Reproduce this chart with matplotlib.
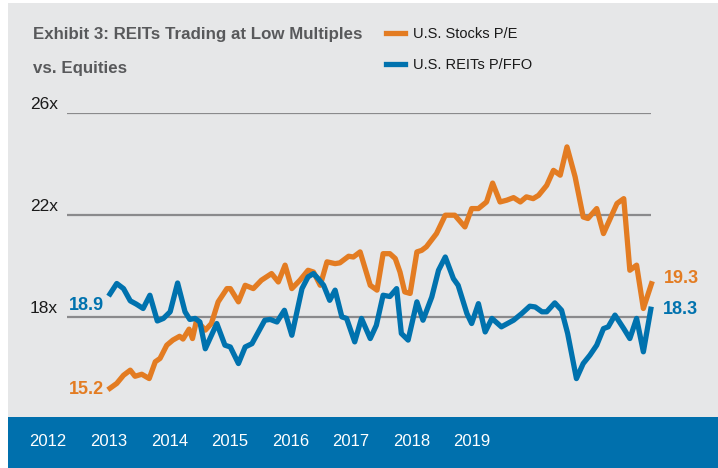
import matplotlib
matplotlib.use('Agg')
import matplotlib.pyplot as plt
from matplotlib.patches import Rectangle
from matplotlib.transforms import blended_transform_factory

plt.rcParams['font.family'] = ['Liberation Sans', 'DejaVu Sans']

# months since Jul 2012
stocks_t = [0.0, 1.0, 2.0, 3.0, 3.7, 4.7, 5.8, 6.7, 7.4, 8.4, 9.3, 10.3, 10.8, 11.7, 12.2, 12.8,
            14.1, 15.0, 16.0, 17.3, 17.8, 19.0, 20.0, 21.2, 22.4, 23.9, 24.9, 25.9, 26.9,
            28.1, 29.3, 30.1, 31.1, 32.1, 33.3, 34.0, 35.3, 36.0, 37.0, 38.5, 39.5, 40.4, 41.4,
            42.2, 42.9, 43.6, 44.4, 45.4, 46.1, 46.8, 48.3, 49.6, 51.0, 52.5, 53.5, 54.5,
            55.7, 56.6, 57.7, 58.7, 59.7, 60.7, 61.6, 62.6, 63.4, 64.6, 65.6, 66.6, 67.6,
            68.8, 70.0, 70.7, 72.0, 73.0, 75.0, 76.0, 76.9, 77.9, 78.9, 80.1]
stocks_pe = [15.2, 15.39, 15.71, 15.91, 15.67, 15.75, 15.58, 16.24, 16.37, 16.89, 17.09, 17.24, 17.13, 17.52, 17.15, 17.86,
             17.48, 17.74, 18.59, 19.11, 19.11, 18.59, 19.24, 19.11, 19.44, 19.70, 19.37, 20.03, 19.11,
             19.44, 19.83, 19.76, 19.24, 20.16, 20.09, 20.12, 20.38, 20.35, 20.55, 19.24, 19.05, 20.48, 20.48,
             20.29, 19.76, 18.98, 18.92, 20.55, 20.61, 20.75, 21.27, 21.99, 21.99, 21.53, 22.25, 22.25,
             22.51, 23.25, 22.51, 22.58, 22.68, 22.51, 22.71, 22.64, 22.77, 23.16, 23.75, 23.56, 24.67,
             23.5, 21.92, 21.86, 22.25, 21.27, 22.45, 22.64, 19.83, 20.03, 18.33, 19.3]

reits_t = [0.0, 1.0, 2.0, 3.0, 3.9, 4.9, 5.9, 7.0, 7.9, 8.9, 10.0, 11.1, 11.8, 12.6, 13.3, 14.1,
           15.8, 17.0, 17.8, 19.0, 20.0, 21.0, 22.9, 23.7, 24.7, 25.8, 26.9, 28.4, 29.3, 30.1,
           30.8, 31.6, 32.5, 33.3, 34.3, 35.0, 36.2, 37.2, 38.5, 39.4, 40.4, 41.4, 42.4, 43.1,
           44.1, 45.4, 46.3, 47.6, 48.6, 49.6, 50.8, 51.5, 52.8, 53.5, 54.5, 55.5, 56.5, 57.9,
           59.7, 60.9, 62.1, 62.9, 63.9, 64.6, 65.8, 66.8, 67.7, 69.0, 70.0, 71.0, 72.0, 73.0,
           73.7, 74.7, 76.0, 76.9, 77.9, 78.9, 80.0]
reits_pffo = [18.9, 19.31, 19.11, 18.63, 18.50, 18.33, 18.85, 17.84, 17.94, 18.20, 19.33, 18.20, 17.90, 17.94, 17.8, 16.75,
              17.74, 16.89, 16.82, 16.17, 16.82, 16.95, 17.87, 17.90, 17.80, 18.26, 17.28, 19.11, 19.57, 19.70,
              19.5, 19.24, 18.65, 19.05, 18.0, 17.94, 17.02, 17.94, 17.15, 17.67, 18.85, 18.80, 19.11, 17.35,
              17.09, 18.59, 17.87, 18.78, 19.83, 20.35, 19.50, 19.24, 18.13, 17.74, 18.52, 17.41, 17.94, 17.61,
              17.87, 18.13, 18.42, 18.39, 18.2, 18.2, 18.55, 18.26, 17.35, 15.58, 16.17, 16.5, 16.89, 17.54,
              17.61, 18.07, 17.54, 17.15, 17.94, 16.63, 18.3]

y_ticks = [18, 22, 26]
years = ['2012', '2013', '2014', '2015', '2016', '2017', '2018', '2019']

ORANGE = '#e37c22'
BLUE = '#0072ae'
W, H = 718, 468

fig = plt.figure(figsize=(W / 100, H / 100), dpi=100)
fig.patches.append(Rectangle((8 / W, 51 / H), 1 - 8 / W, 1 - 54 / H, transform=fig.transFigure,
                             facecolor='#e6e7e8', edgecolor='none', zorder=-10))
fig.patches.append(Rectangle((8 / W, 0), 1 - 8 / W, 51 / H, transform=fig.transFigure,
                             facecolor='#0070ad', edgecolor='none', zorder=-10))

# plot area: gridlines span px 67..651, 26x at py 113, bottom at py 401
ax = fig.add_axes([67 / W, 1 - 401 / H, (651 - 67) / W, (401 - 113) / H])
ax.set_facecolor('none')
ax.set_xlim(-6.36, 80.03)
ax.set_ylim(14.7, 26)
for s in ax.spines.values():
    s.set_visible(False)
ax.set_xticks([])
ax.set_yticks([])

for v in y_ticks:
    ax.axhline(v, color='#8a8a8c', lw=1.6, zorder=1)
trans = blended_transform_factory(ax.transAxes, ax.transData)
for v in y_ticks:
    ax.text(-0.016, v + 0.02, f'{v}x', transform=trans, ha='right', va='bottom',
            fontsize=12.5, color='#1a1a1a')

l1, = ax.plot(stocks_t, stocks_pe, color=ORANGE, lw=3.8, clip_on=False, zorder=3,
              label='U.S. Stocks P/E')
l2, = ax.plot(reits_t, reits_pffo, color=BLUE, lw=3.8, clip_on=False, zorder=3,
              label='U.S. REITs P/FFO')

# start / end value labels
ax.annotate(f'{stocks_pe[0]:.1f}', (stocks_t[0], stocks_pe[0]), xytext=(-4, -1), textcoords='offset points',
            ha='right', va='center', color=ORANGE, fontsize=13, fontweight='bold')
ax.annotate(f'{reits_pffo[0]:.1f}', (reits_t[0], reits_pffo[0]), xytext=(-4, -8), textcoords='offset points',
            ha='right', va='center', color=BLUE, fontsize=13, fontweight='bold')
ax.annotate(f'{stocks_pe[-1]:.1f}', (stocks_t[-1], stocks_pe[-1]), xytext=(9, 4), textcoords='offset points',
            ha='left', va='center', color=ORANGE, fontsize=13, fontweight='bold', annotation_clip=False)
ax.annotate(f'{reits_pffo[-1]:.1f}', (reits_t[-1], reits_pffo[-1]), xytext=(9, 0), textcoords='offset points',
            ha='left', va='center', color=BLUE, fontsize=13, fontweight='bold', annotation_clip=False)

fig.text(33 / W, 1 - 35 / H, 'Exhibit 3: REITs Trading at Low Multiples', ha='left', va='center',
         fontsize=12.2, fontweight='bold', color='#58595b')
fig.text(33 / W, 1 - 68 / H, 'vs. Equities', ha='left', va='center',
         fontsize=12.2, fontweight='bold', color='#58595b')

fig.legend(handles=[l1, l2], loc='upper left', bbox_to_anchor=(379 / W, 1 - 20 / H), frameon=False,
           fontsize=10.5, handlelength=1.3, handletextpad=0.5, labelspacing=1.15, borderpad=0,
           labelcolor='#1a1a1a')

# year labels on the blue band
for i, yr in enumerate(years):
    fig.text((48 + i * 60.6) / W, 1 - 442 / H, yr, ha='center', va='center', fontsize=12, color='white')

fig.savefig('out.png', dpi=100)
